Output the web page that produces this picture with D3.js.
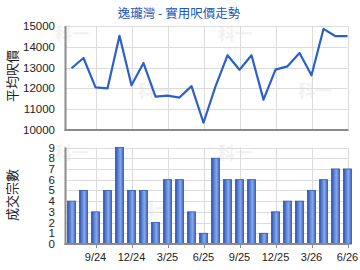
<!DOCTYPE html>
<html>
<head>
<meta charset="utf-8">
<script src="https://cdn.jsdelivr.net/npm/d3@7"></script>
<style>
  body { margin: 0; background: #fff; }
  svg { display: block; }
  text { font-family: "Liberation Sans", Arial, sans-serif; }
  .cjk { font-family: "Noto Sans CJK TC", "Noto Sans CJK SC", sans-serif; }
</style>
</head>
<body>
<div id="chart"></div>
<script>
// months from 7/24 to 6/26
const months = ["7/24","8/24","9/24","10/24","11/24","12/24","1/25","2/25","3/25","4/25","5/25","6/25",
                "7/25","8/25","9/25","10/25","11/25","12/25","1/26","2/26","3/26","4/26","5/26","6/26"];
const prices = [12970, 13460, 12050, 12000, 14530, 12150, 13220, 11600, 11650, 11560, 12110, 10350,
                12100, 13590, 12900, 13590, 11460, 12900, 13060, 13700, 12630, 14860, 14510, 14510];
const deals = [4, 5, 3, 5, 9, 5, 5, 2, 6, 6, 3, 1, 8, 6, 6, 6, 1, 3, 4, 4, 5, 6, 7, 7];
const tickLabels = ["9/24","12/24","3/25","6/25","9/25","12/25","3/26","6/26"];
const priceTicks = [10000, 11000, 12000, 13000, 14000, 15000];
const dealTicks = [0, 1, 2, 3, 4, 5, 6, 7, 8, 9];

const title = "逸瓏灣 - 實用呎價走勢";

const width = 360, height = 270;
const left = 65.5, right = 347.5;
const top1 = 26, bottom1 = 130;
const top2 = 147.5, bottom2 = 244;

const svg = d3.select("#chart").append("svg")
    .attr("width", width)
    .attr("height", height);

const defs = svg.append("defs");
const grad = defs.append("linearGradient").attr("id", "barGrad")
    .attr("x1", "0%").attr("x2", "100%").attr("y1", "0%").attr("y2", "0%");
grad.append("stop").attr("offset", "0%").attr("stop-color", "#2a55b8");
grad.append("stop").attr("offset", "35%").attr("stop-color", "#5c84d6");
grad.append("stop").attr("offset", "60%").attr("stop-color", "#8eaae6");
grad.append("stop").attr("offset", "100%").attr("stop-color", "#3a66c4");

// x: month index, one month = 12px
const x = d3.scaleLinear()
    .domain([-0.5, months.length - 1])
    .range([left, right]);

const yPrice = d3.scaleLinear().domain([10000, 15000]).range([bottom1, top1]);
const yDeals = d3.scaleLinear().domain([0, 9]).range([bottom2, top2]);

const tickIdx = tickLabels.map(t => months.indexOf(t));

// watermarks
const marks = [[72, 40], [235, 40], [155, 97], [315, 97], [72, 159], [235, 159], [155, 215], [315, 215]];
svg.append("g").selectAll("text")
    .data(marks)
    .join("text")
    .attr("class", "cjk")
    .attr("x", d => d[0])
    .attr("y", d => d[1])
    .attr("text-anchor", "middle")
    .attr("font-size", 17)
    .attr("font-weight", "bold")
    .attr("fill", "#f2f2f2")
    .text("科一");

function panel(y, ticks, yTop, yBottom) {
    const g = svg.append("g");
    // horizontal grid
    g.selectAll("line.h")
        .data(ticks)
        .join("line")
        .attr("x1", left).attr("x2", right)
        .attr("y1", d => Math.round(y(d)) + 0.5)
        .attr("y2", d => Math.round(y(d)) + 0.5)
        .attr("stroke", "#dcdcdc");
    // vertical grid
    g.selectAll("line.v")
        .data(tickIdx)
        .join("line")
        .attr("x1", d => Math.round(x(d)) + 0.5)
        .attr("x2", d => Math.round(x(d)) + 0.5)
        .attr("y1", yTop).attr("y2", yBottom)
        .attr("stroke", "#dcdcdc");
    // y labels
    g.selectAll("text")
        .data(ticks)
        .join("text")
        .attr("x", 55)
        .attr("y", d => y(d) + 4)
        .attr("text-anchor", "end")
        .attr("font-size", 11.5)
        .attr("fill", "#222")
        .text(d => d);
    return g;
}

panel(yPrice, priceTicks, top1, bottom1);
panel(yDeals, dealTicks, top2, bottom2);

// price line
const line = d3.line()
    .x((d, i) => x(i))
    .y(d => yPrice(d));

svg.append("path")
    .datum(prices)
    .attr("fill", "none")
    .attr("stroke", "#2a5fcc")
    .attr("stroke-width", 2.2)
    .attr("stroke-linejoin", "round")
    .attr("d", line);

// deal bars
svg.append("g").selectAll("rect")
    .data(deals)
    .join("rect")
    .attr("x", (d, i) => x(i) - 4)
    .attr("width", 8)
    .attr("y", d => yDeals(d))
    .attr("height", d => yDeals(0) - yDeals(d))
    .attr("fill", "url(#barGrad)")
    .attr("stroke", "#2a55b8")
    .attr("stroke-width", 0.8);

// axes lines
[[top1, bottom1], [top2, bottom2]].forEach(([t, b]) => {
    svg.append("line")
        .attr("x1", left).attr("x2", left)
        .attr("y1", t).attr("y2", b + 1)
        .attr("stroke", "#8a8a8a").attr("stroke-width", 2);
    svg.append("line")
        .attr("x1", left - 1).attr("x2", right + 1)
        .attr("y1", b).attr("y2", b)
        .attr("stroke", "#8a8a8a").attr("stroke-width", 2);
});

// x ticks under bottom chart
svg.append("g").selectAll("line")
    .data(tickIdx)
    .join("line")
    .attr("x1", d => Math.round(x(d)) + 0.5)
    .attr("x2", d => Math.round(x(d)) + 0.5)
    .attr("y1", bottom2).attr("y2", bottom2 + 4)
    .attr("stroke", "#8a8a8a");

svg.append("g").selectAll("text")
    .data(tickIdx)
    .join("text")
    .attr("x", d => x(d))
    .attr("y", 261)
    .attr("text-anchor", "middle")
    .attr("font-size", 11)
    .attr("fill", "#222")
    .text((d, i) => tickLabels[i]);

// title
svg.append("text")
    .attr("class", "cjk")
    .attr("x", 179)
    .attr("y", 18)
    .attr("text-anchor", "middle")
    .attr("font-size", 12.5)
    .attr("fill", "#2255bb")
    .text(title);

// y titles
[["平均呎價", 76], ["成交宗數", 195]].forEach(([t, cy]) => {
    svg.append("text")
        .attr("class", "cjk")
        .attr("transform", `translate(17, ${cy}) rotate(-90)`)
        .attr("text-anchor", "middle")
        .attr("font-size", 13)
        .attr("fill", "#222")
        .text(t);
});
</script>
</body>
</html>
